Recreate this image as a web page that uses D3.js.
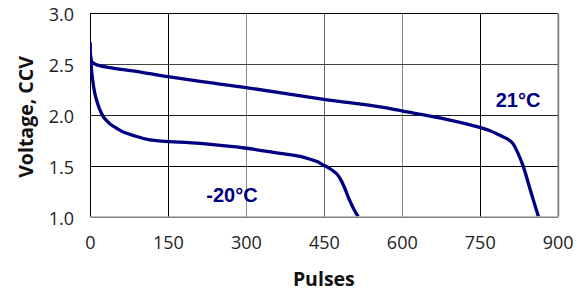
<!DOCTYPE html>
<html><head><meta charset="utf-8">
<script src="https://cdn.jsdelivr.net/npm/d3@7"></script>
<style>body{margin:0;background:#fff}</style>
</head><body>
<svg id="c" width="582" height="292"></svg>
<script>
const xTicks = [0,150,300,450,600,750,900];
const yTicks = [1.0,1.5,2.0,2.5,3.0];
const seriesNames = ["21°C","-20°C"];
const warmPulses = [0,1,4,15,44,100,150,212,300,450,558,600,686,750,770,789,803,813,823,834,848,863];
const warmVolts  = [2.72,2.58,2.52,2.49,2.46,2.42,2.377,2.33,2.27,2.154,2.08,2.04,1.958,1.879,1.845,1.80,1.765,1.725,1.63,1.49,1.25,1.0];
const coldPulses = [0,2,5,9,13,19,26,38,51,65,83,115,212,301,366,390,410,425,438,449,460,468,476,484,491,498,507,516];
const coldVolts  = [2.70,2.50,2.35,2.22,2.14,2.05,1.98,1.915,1.87,1.83,1.80,1.755,1.72,1.673,1.623,1.605,1.585,1.562,1.54,1.508,1.478,1.45,1.415,1.35,1.27,1.18,1.08,1.0];

const svg = d3.select("#c");
const L=90, R=557.7, T=13.3, B=216.7;
const x = d3.scaleLinear().domain([0,900]).range([L,R]);
const y = d3.scaleLinear().domain([1,3]).range([B,T]);

// grid
const vCol = {150:"#000",300:"#888",450:"#666",600:"#888",750:"#000"};
const hCol = {1.5:"#000",2.0:"#222",2.5:"#444"};
svg.append("g").selectAll("line").data(xTicks.slice(1,-1)).join("line")
  .attr("x1",d=>Math.round(x(d))+0.5).attr("x2",d=>Math.round(x(d))+0.5)
  .attr("y1",T).attr("y2",B).attr("stroke",d=>vCol[d]).attr("stroke-width",1);
svg.append("g").selectAll("line").data(yTicks.slice(1,-1)).join("line")
  .attr("y1",d=>Math.round(y(d))+0.5).attr("y2",d=>Math.round(y(d))+0.5)
  .attr("x1",L).attr("x2",R).attr("stroke",d=>hCol[d]).attr("stroke-width",1);
// borders
svg.append("line").attr("x1",L).attr("x2",R).attr("y1",13.5).attr("y2",13.5).attr("stroke","#000");
svg.append("line").attr("x1",R+1.5).attr("x2",R+1.5).attr("y1",T).attr("y2",B).attr("stroke","#ddd");
svg.append("line").attr("x1",R+0.5).attr("x2",R+0.5).attr("y1",T).attr("y2",B).attr("stroke","#333");
svg.append("line").attr("x1",90.5).attr("x2",90.5).attr("y1",T).attr("y2",B).attr("stroke","#000");

// axes
const xa = svg.append("g").attr("transform",`translate(0,${B})`)
  .call(d3.axisBottom(x).tickValues(xTicks).tickSize(0).tickPadding(20).tickFormat(d3.format("d")));
xa.select(".domain").attr("stroke","#808080").attr("stroke-width",1.6);
xa.selectAll("text").attr("font-family","Open Sans").attr("font-size",18).attr("fill","#222");
const ya = svg.append("g").attr("transform",`translate(${L},0)`)
  .call(d3.axisLeft(y).tickValues(yTicks).tickSize(0).tickPadding(16).tickFormat(d3.format(".1f")));
ya.select(".domain").remove();
ya.selectAll("text").attr("font-family","Open Sans").attr("font-size",18).attr("fill","#222").attr("dy","0.42em");

// curves
const line = d3.line().x(d=>x(d[0])).y(d=>y(d[1])).curve(d3.curveCatmullRom.alpha(0.5));
const warm = warmPulses.map((p,i)=>[p,warmVolts[i]]);
const cold = coldPulses.map((p,i)=>[p,coldVolts[i]]);
svg.append("clipPath").attr("id","clp").append("rect").attr("x",L).attr("y",0).attr("width",R-L).attr("height",B-0.5);
[warm,cold].forEach(s=>svg.append("path").datum(s).attr("d",line).attr("fill","none")
  .attr("stroke","#000080").attr("stroke-width",3.3).attr("stroke-linejoin","round").attr("clip-path","url(#clp)"));

// labels
svg.append("text").attr("x",518).attr("y",107).attr("text-anchor","middle")
  .attr("font-family","Liberation Sans").attr("font-weight","bold").attr("font-size",20).attr("fill","#00007f").text(seriesNames[0]);
svg.append("text").attr("x",232).attr("y",201.7).attr("text-anchor","middle")
  .attr("font-family","Liberation Sans").attr("font-weight","bold").attr("font-size",20).attr("fill","#00007f").text(seriesNames[1]);

svg.append("text").attr("x",(L+R)/2).attr("y",286).attr("text-anchor","middle")
  .attr("font-family","Open Sans").attr("font-weight","bold").attr("font-size",19.5).attr("fill","#111").text("Pulses");
svg.append("text").attr("transform",`translate(33,117) rotate(-90)`).attr("text-anchor","middle")
  .attr("font-family","Open Sans").attr("font-weight","bold").attr("font-size",19.5).attr("fill","#111").text("Voltage, CCV");
</script>
</body></html>
